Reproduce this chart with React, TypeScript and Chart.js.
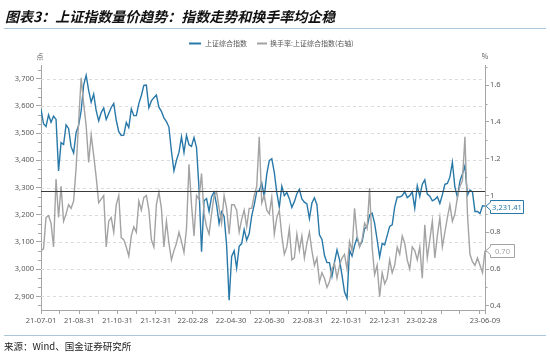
import React, { useEffect, useRef } from 'react';
import { Chart, registerables } from 'chart.js';

Chart.register(...registerables);

// ---------- data ----------
const startDate = '2021-07-01';
const sampleStepDays = 4;

// 上证综合指数 (点), one value every 4 calendar days from 2021-07-01 to 2023-06-09
const indexValues: number[] = [
  3588, 3534, 3524, 3567, 3540, 3562, 3550, 3361, 3465, 3458,
  3530, 3517, 3450, 3427, 3502, 3528, 3581, 3676, 3712, 3657,
  3613, 3643, 3582, 3545, 3575, 3592, 3550, 3572, 3594, 3609,
  3547, 3505, 3491, 3492, 3539, 3520, 3589, 3564, 3564, 3608,
  3638, 3675, 3676, 3593, 3618, 3630, 3640, 3595, 3580, 3556,
  3542, 3522, 3433, 3361, 3400, 3429, 3486, 3429, 3491, 3457,
  3451, 3484, 3447, 3296, 3064, 3251, 3259, 3212, 3266, 3283,
  3236, 3167, 3211, 3194, 3087, 2886, 3047, 3068, 3004, 3084,
  3094, 3146, 3107, 3131, 3196, 3236, 3285, 3288, 3316, 3267,
  3349, 3399, 3406, 3356, 3281, 3228, 3305, 3270, 3282, 3259,
  3227, 3248, 3277, 3293, 3258, 3246, 3240, 3186, 3243, 3262,
  3237, 3126, 3109, 3051, 3024, 3024, 2974, 3025, 3071, 3035,
  2977, 2916, 2893, 3070, 3048, 3087, 3115, 3085, 3101, 3149,
  3156, 3199, 3206, 3168, 3108, 3045, 3095, 3089, 3123, 3157,
  3163, 3228, 3265, 3265, 3270, 3285, 3263, 3270, 3284, 3224,
  3306, 3267, 3312, 3328, 3276, 3268, 3251, 3256, 3266, 3241,
  3273, 3312, 3315, 3338, 3393, 3301, 3264, 3323, 3350, 3380,
  3272, 3291, 3284, 3212, 3212, 3204, 3233, 3231.41,
];

// 换手率:上证综合指数 (%), same dates
const turnoverValues: number[] = [
  0.70, 0.71, 0.88, 0.89, 0.85, 0.72, 1.09, 0.88, 1.05, 0.86,
  0.90, 0.95, 0.93, 0.97, 1.15, 1.40, 1.64, 1.50, 1.38, 1.18,
  1.33, 1.22, 1.10, 0.96, 0.98, 1.00, 0.72, 0.86, 0.88, 0.80,
  0.95, 1.00, 0.77, 0.76, 0.72, 0.67, 0.78, 0.83, 0.80, 0.97,
  0.92, 0.99, 1.00, 0.92, 0.76, 0.72, 0.95, 1.02, 0.93, 0.72,
  0.86, 0.74, 0.65, 0.70, 0.74, 0.80, 0.75, 0.69, 0.82, 1.17,
  0.95, 0.78, 1.00, 0.98, 1.12, 0.90, 0.83, 0.79, 0.90, 1.00,
  1.02, 0.93, 0.85, 1.00, 0.93, 0.79, 0.95, 0.95, 0.92, 0.80,
  0.87, 0.92, 0.83, 0.93, 0.93, 1.00, 1.05, 1.32, 0.96, 1.00,
  0.92, 0.90, 0.99, 0.79, 0.88, 0.92, 0.78, 0.68, 0.72, 0.82,
  0.65, 0.66, 0.79, 0.70, 0.78, 0.66, 0.74, 0.80, 0.70, 0.62,
  0.66, 0.53, 0.58, 0.55, 0.50, 0.53, 0.60, 0.63, 0.55, 0.62,
  0.66, 0.68, 0.60, 0.75, 0.70, 0.93, 0.78, 0.72, 0.76, 0.85,
  0.82, 1.04, 0.72, 0.57, 0.62, 0.45, 0.58, 0.52, 0.55, 0.65,
  0.58, 0.62, 0.72, 0.68, 0.78, 0.74, 0.65, 0.60, 0.72, 0.70,
  0.65, 0.72, 0.55, 0.84, 0.66, 0.76, 0.86, 0.66, 0.78, 0.88,
  0.72, 0.80, 0.88, 0.95, 0.86, 0.90, 0.99, 1.05, 1.08, 1.32,
  0.90, 0.68, 0.64, 0.62, 0.66, 0.62, 0.58, 0.70,
];

const labeledTickDates = [
  '21-07-01', '21-08-31', '21-10-31', '21-12-31', '22-02-28', '22-04-30',
  '22-06-30', '22-08-31', '22-10-31', '22-12-31', '23-02-28', '23-06-09',
];
const minorTickDates = [
  '21-07-31', '21-09-30', '21-11-30', '22-01-31', '22-03-31', '22-05-31',
  '22-07-31', '22-09-30', '22-11-30', '23-01-31', '23-03-31', '23-04-30', '23-05-31',
];
const leftTickValues = [2900, 3000, 3100, 3200, 3300, 3400, 3500, 3600, 3700];
const rightTickValues = [0.4, 0.6, 0.8, 1, 1.2, 1.4, 1.6];
const referenceLevel = 3286;

const seriesNames = ['上证综合指数', '换手率:上证综合指数(右轴)'];
const titleText = '图表3：上证指数量价趋势：指数走势和换手率均企稳';
const sourceText = '来源：Wind、国金证券研究所';
const leftUnit = '点';
const rightUnit = '%';

// ---------- helpers ----------
const DAY_MS = 86400000;
const t0 = Date.parse(startDate + 'T00:00:00Z');
const shortToDay = (s: string) => {
  const [yy, mm, dd] = s.split('-').map(Number);
  return Math.round((Date.UTC(2000 + yy, mm - 1, dd) - t0) / DAY_MS);
};
const labelByDay: Record<number, string> = {};
labeledTickDates.forEach((d) => { labelByDay[shortToDay(d)] = d; });
const xTickDays = [...labeledTickDates, ...minorTickDates].map(shortToDay).sort((a, b) => a - b);
const lastDay = shortToDay(labeledTickDates[labeledTickDates.length - 1]);

const BLUE = '#2878a8';
const GRAY = '#a3a3a3';
const AXIS = '#a6a6a6';
const TEXT = '#595959';
const SANS = "'Noto Sans', 'Noto Sans CJK SC', sans-serif";
const CJK = "'Noto Sans CJK SC', 'Noto Sans', sans-serif";

const decorPlugin = {
  id: 'decor',
  beforeDatasetsDraw(chart: any) {
    const { ctx, chartArea: ca, scales } = chart;
    ctx.save();
    ctx.strokeStyle = '#dcdcdc';
    ctx.lineWidth = 1;
    ctx.setLineDash([3, 3]);
    leftTickValues.forEach((v) => {
      const py = Math.round(scales.y.getPixelForValue(v)) + 0.5;
      ctx.beginPath();
      ctx.moveTo(ca.left, py);
      ctx.lineTo(ca.right, py);
      ctx.stroke();
    });
    ctx.restore();
  },
  afterDatasetsDraw(chart: any) {
    const { ctx, chartArea: ca, scales } = chart;
    ctx.save();
    ctx.strokeStyle = '#3a3a3a';
    ctx.lineWidth = 1;
    const py = Math.round(scales.y.getPixelForValue(referenceLevel)) + 0.5;
    ctx.beginPath();
    ctx.moveTo(ca.left, py);
    ctx.lineTo(ca.right, py);
    ctx.stroke();
    ctx.restore();
  },
  afterDraw(chart: any) {
    const { ctx, chartArea: ca, scales, width } = chart;
    ctx.save();
    // title
    ctx.fillStyle = '#111';
    ctx.font = `italic bold 14px ${CJK}`;
    ctx.textBaseline = 'middle';
    ctx.textAlign = 'left';
    ctx.fillText(titleText, 5, 17);
    ctx.strokeStyle = '#a9c6da';
    ctx.lineWidth = 1;
    ctx.beginPath();
    ctx.moveTo(4, 28.5);
    ctx.lineTo(width - 4, 28.5);
    ctx.stroke();
    // footer
    ctx.beginPath();
    ctx.moveTo(4, 335.5);
    ctx.lineTo(width - 4, 335.5);
    ctx.stroke();
    ctx.fillStyle = '#222';
    ctx.font = `9.5px ${CJK}`;
    ctx.fillText(sourceText, 4, 346);

    // legend
    ctx.font = `7px ${CJK}`;
    ctx.fillStyle = TEXT;
    ctx.lineWidth = 2;
    ctx.strokeStyle = BLUE;
    ctx.beginPath(); ctx.moveTo(189, 43.5); ctx.lineTo(201, 43.5); ctx.stroke();
    ctx.fillText(seriesNames[0], 205, 43.5);
    ctx.strokeStyle = GRAY;
    ctx.beginPath(); ctx.moveTo(257, 43.5); ctx.lineTo(267, 43.5); ctx.stroke();
    ctx.fillText(seriesNames[1], 270, 43.5);

    // units
    ctx.font = `7px ${CJK}`;
    ctx.textAlign = 'center';
    ctx.fillText(leftUnit, ca.left - 1, 56);
    ctx.fillText(rightUnit, ca.right, 56);

    // minor ticks
    ctx.strokeStyle = AXIS;
    ctx.lineWidth = 1;
    const yl = scales.y;
    for (let i = -2; i <= 26; i++) {
      if (i % 3 === 0) continue;
      const v = 2900 + (i * 100) / 3;
      if (v < yl.min || v > yl.max) continue;
      const py = Math.round(yl.getPixelForValue(v)) + 0.5;
      ctx.beginPath(); ctx.moveTo(ca.left - 3, py); ctx.lineTo(ca.left, py); ctx.stroke();
    }
    const yr = scales.y1;
    for (let i = 3; i <= 17; i += 2) {
      const v = i / 10;
      if (v < yr.min || v > yr.max) continue;
      const py = Math.round(yr.getPixelForValue(v)) + 0.5;
      ctx.beginPath(); ctx.moveTo(ca.right, py); ctx.lineTo(ca.right + 2.5, py); ctx.stroke();
    }

    // end labels
    const drawTag = (yc: number, text: string, color: string, w: number) => {
      const x0 = ca.right + 5.5;
      const h = 13;
      const top = Math.round(yc - h / 2) + 0.5;
      const bot = top + h;
      ctx.beginPath();
      ctx.moveTo(ca.right + 1, yc);
      ctx.lineTo(x0, yc - 4);
      ctx.lineTo(x0, top);
      ctx.lineTo(x0 + w, top);
      ctx.lineTo(x0 + w, bot);
      ctx.lineTo(x0, bot);
      ctx.lineTo(x0, yc + 4);
      ctx.closePath();
      ctx.fillStyle = '#fff';
      ctx.fill();
      ctx.strokeStyle = color;
      ctx.lineWidth = 1;
      ctx.stroke();
      ctx.fillStyle = color;
      ctx.font = `7.5px ${SANS}`;
      ctx.textAlign = 'center';
      ctx.textBaseline = 'middle';
      ctx.fillText(text, x0 + w / 2, top + h / 2 + 0.5);
    };
    const lastIdx = indexValues[indexValues.length - 1];
    const lastTurn = turnoverValues[turnoverValues.length - 1];
    drawTag(yl.getPixelForValue(lastIdx),
      lastIdx.toLocaleString('en-US', { minimumFractionDigits: 2, maximumFractionDigits: 2 }), BLUE, 33);
    drawTag(yr.getPixelForValue(lastTurn), lastTurn.toFixed(2), GRAY, 24);
    ctx.restore();
  },
};

export default function App() {
  const canvasRef = useRef<HTMLCanvasElement | null>(null);

  useEffect(() => {
    const canvas = canvasRef.current;
    if (!canvas) return;
    const indexPts = indexValues.map((v, k) => ({ x: k * sampleStepDays, y: v }));
    const turnPts = turnoverValues.map((v, k) => ({ x: k * sampleStepDays, y: v }));

    const chart = new Chart(canvas, {
      type: 'line',
      data: {
        datasets: [
          {
            label: seriesNames[1],
            data: turnPts,
            yAxisID: 'y1',
            borderColor: GRAY,
            borderWidth: 1.4,
            pointRadius: 0,
            tension: 0,
          },
          {
            label: seriesNames[0],
            data: indexPts,
            yAxisID: 'y',
            borderColor: BLUE,
            borderWidth: 1.4,
            pointRadius: 0,
            tension: 0,
          },
        ],
      },
      options: {
        animation: false,
        responsive: false,
        events: [],
        layout: { padding: { top: 65, left: 0, right: 0, bottom: 0 } },
        plugins: { legend: { display: false }, tooltip: { enabled: false }, title: { display: false } },
        scales: {
          x: {
            type: 'linear',
            min: 0,
            max: lastDay,
            afterBuildTicks: (s: any) => { s.ticks = xTickDays.map((v) => ({ value: v })); },
            afterFit: (s: any) => { s.height = 44; },
            ticks: {
              autoSkip: false,
              maxRotation: 0,
              minRotation: 0,
              padding: 2,
              color: TEXT,
              font: { family: SANS, size: 7.5 },
              callback: (v: any) => labelByDay[v as number] ?? '',
            },
            grid: { drawOnChartArea: false, drawTicks: true, tickLength: 4, color: AXIS, tickColor: AXIS },
            border: { color: AXIS },
          },
          y: {
            position: 'left',
            min: 2850,
            max: 3750,
            afterBuildTicks: (s: any) => { s.ticks = leftTickValues.map((v) => ({ value: v })); },
            afterFit: (s: any) => { s.width = 41; },
            ticks: {
              padding: 2,
              color: TEXT,
              font: { family: SANS, size: 7.5 },
              callback: (v: any) => Number(v).toLocaleString('en-US'),
            },
            grid: { drawOnChartArea: false, drawTicks: true, tickLength: 5, color: AXIS, tickColor: AXIS },
            border: { color: AXIS },
          },
          y1: {
            position: 'right',
            min: 0.377,
            max: 1.71,
            afterBuildTicks: (s: any) => { s.ticks = rightTickValues.map((v) => ({ value: v })); },
            afterFit: (s: any) => { s.width = 65; },
            ticks: {
              padding: 1,
              color: TEXT,
              font: { family: SANS, size: 7.5 },
              callback: (v: any) => String(Number(Number(v).toFixed(1))),
            },
            grid: { drawOnChartArea: false, drawTicks: true, tickLength: 4, color: AXIS, tickColor: AXIS },
            border: { color: AXIS },
          },
        },
      },
      plugins: [decorPlugin],
    } as any);

    return () => chart.destroy();
  }, []);

  return (
    <div style={{ position: 'fixed', left: 0, top: 0, width: 550, height: 354, background: '#fff' }}>
      <canvas ref={canvasRef} width={550} height={354} style={{ width: 550, height: 354, display: 'block' }} />
    </div>
  );
}
